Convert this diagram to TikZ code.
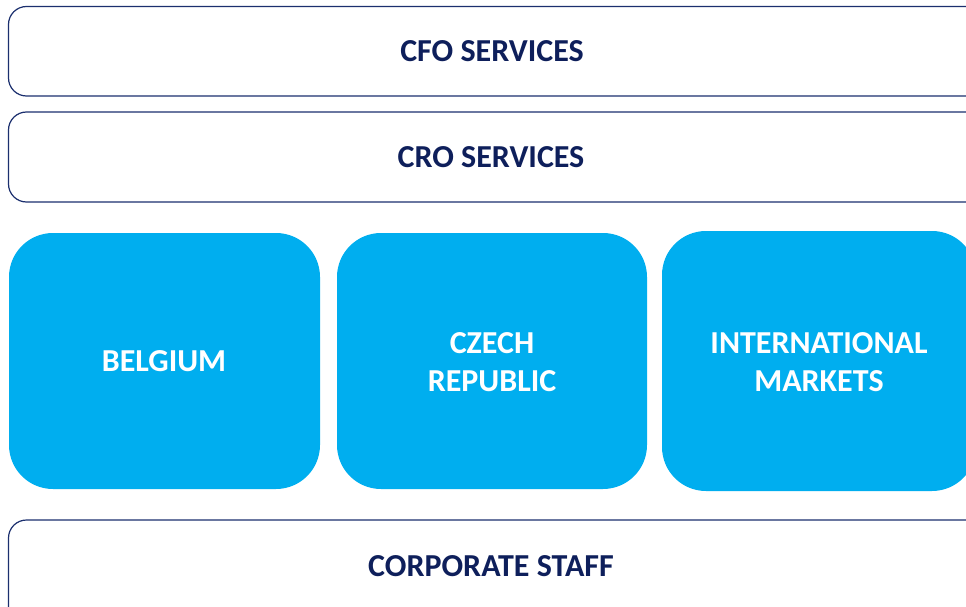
\documentclass[tikz,border=0pt]{standalone}
\usepackage{fontspec}
\setmainfont{Carlito}
\definecolor{navy}{HTML}{1B2F6E}
\definecolor{txtnavy}{HTML}{0E1F5B}
\definecolor{skyblue}{HTML}{00AEEF}
\begin{document}
\begin{tikzpicture}[x=1pt,y=-1pt,
  band/.style={draw=navy,line width=1.2pt,rounded corners=18pt,fill=white},
  bandtext/.style={font=\bfseries\fontsize{32}{38}\selectfont,text=txtnavy},
  tile/.style={fill=skyblue,rounded corners=44pt},
  tiletext/.style={font=\bfseries\fontsize{32}{38}\selectfont,text=white,align=center}]
\useasboundingbox (0,0) rectangle (966,607);
\clip (0,0) rectangle (966,607);
\draw[band] (8.5,6.5) rectangle (1000,96);
\draw[band] (8.5,112) rectangle (1000,202);
\draw[band] (8.5,520) rectangle (1000,640);
\fill[tile] (9,233) rectangle (320,489);
\fill[tile] (337,233) rectangle (647,489);
\fill[tile] (662,231) rectangle (976,491);
\node[bandtext] (cfo) at (492,51) {CFO SERVICES};
\node[bandtext] (cro) at (491,157) {CRO SERVICES};
\node[bandtext] (corp) at (491,566) {CORPORATE STAFF};
\node[tiletext] (be) at (164,361) {BELGIUM};
\node[tiletext] (cz) at (492,362) {CZECH\\REPUBLIC};
\node[tiletext] (im) at (819,362) {INTERNATIONAL\\MARKETS};
\end{tikzpicture}
\end{document}
